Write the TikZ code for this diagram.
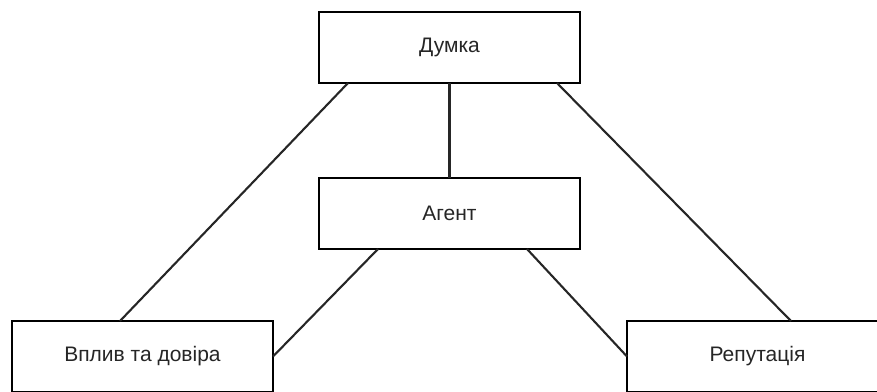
\documentclass[tikz,border=0pt]{standalone}
\usepackage{fontspec}
\setmainfont{Liberation Sans}
\usetikzlibrary{positioning}

\tikzset{
	box/.style = {draw, line width=2.2pt, fill=white, minimum width=261pt, minimum height=71pt,
		inner sep=0pt, outer sep=0pt, text=black!85, font=\fontsize{21}{25}\selectfont},
	link/.style = {line width=2.1pt, black!85}
}

\begin{document}
\begin{tikzpicture}[x=1pt, y=-1pt]
	% Frame of the picture
	\useasboundingbox (0,0) rectangle (877,391);
	
	% Boxes
	\node[box] (dumka) at (449.5,47.5) {Думка};
	\node[box] (agent) at (449.5,213.5) {Агент};
	\node[box] (vplyv) at (142.5,356.5) {Вплив та довіра};
	\node[box] (reput) at (757.5,356.5) {Репутація};
	
	% Lines from the top box
	\draw[link] ([xshift=29pt]dumka.south west) -- ([xshift=108pt]vplyv.north west);
	\draw[link] (dumka.south) -- (agent.north);
	\draw[link] ([xshift=-23pt]dumka.south east) -- ([xshift=164pt]reput.north west);
	
	% Lines from the middle box
	\draw[link] ([xshift=59pt]agent.south west) -- (vplyv.east);
	\draw[link] ([xshift=-53pt]agent.south east) -- (reput.west);
\end{tikzpicture}
\end{document}
